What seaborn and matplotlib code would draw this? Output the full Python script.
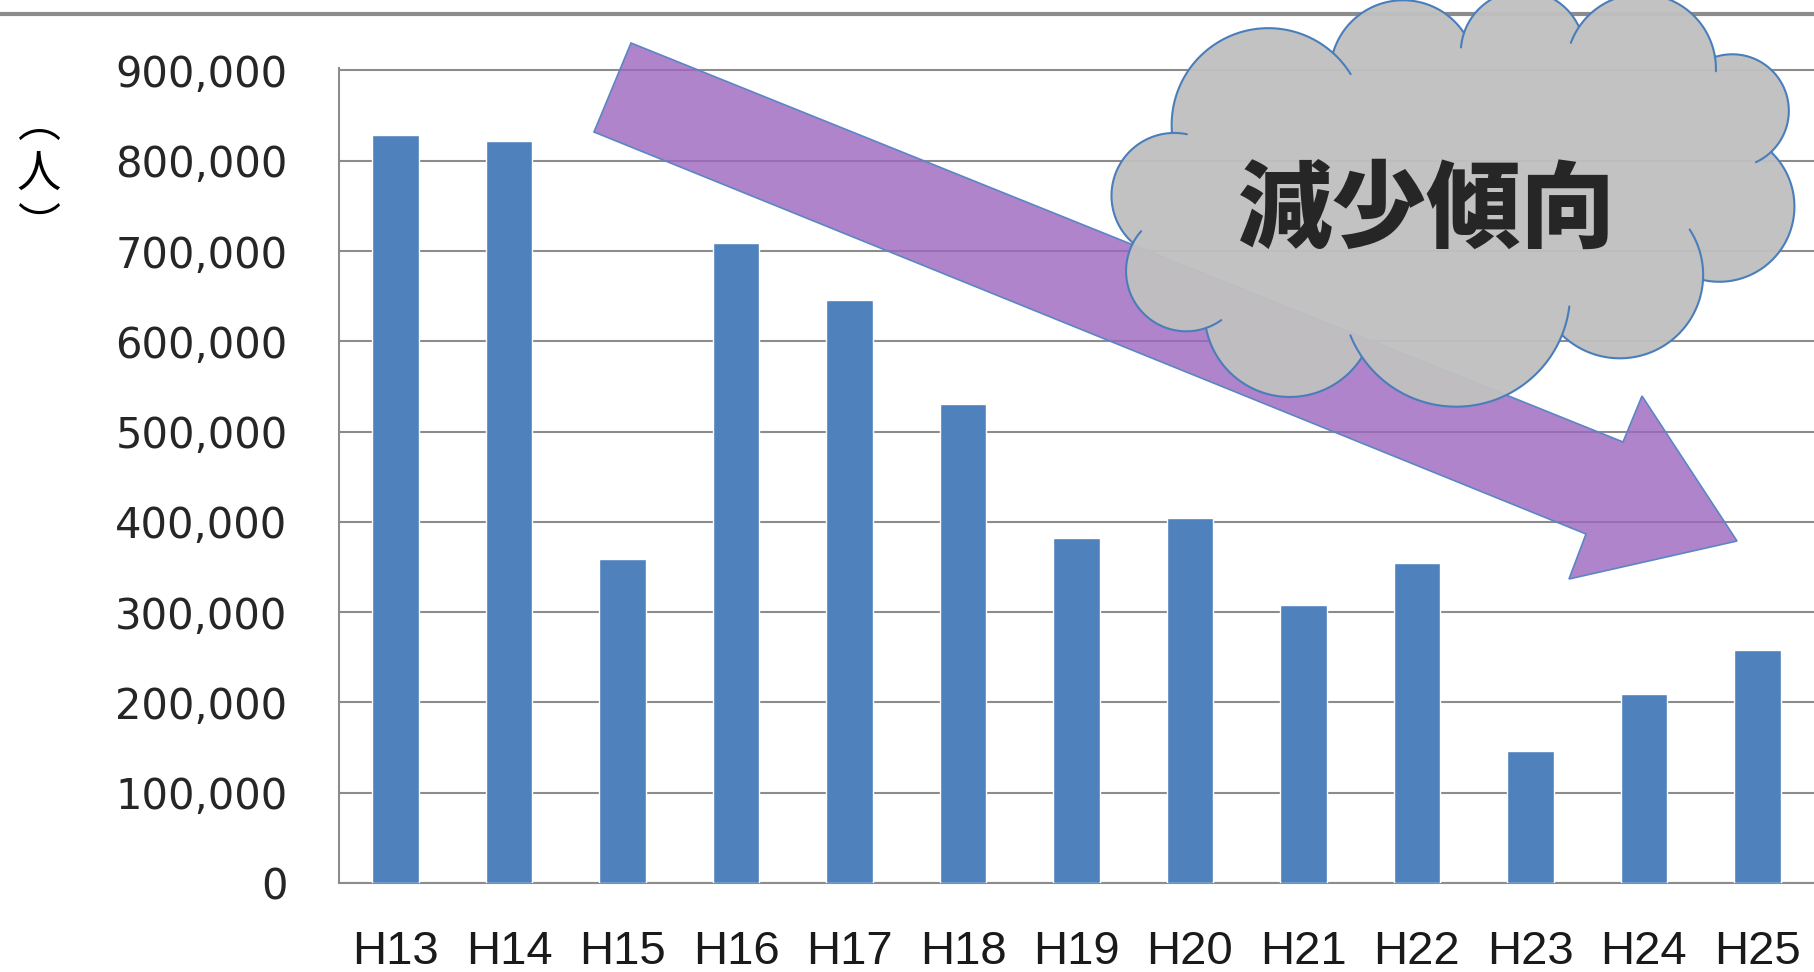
import numpy as np
import pandas as pd
import matplotlib
matplotlib.use("Agg")
import matplotlib.pyplot as plt
import seaborn as sns
from matplotlib.patches import Polygon
from matplotlib.ticker import FuncFormatter

# ---------------- data ----------------
years = ["H13", "H14", "H15", "H16", "H17", "H18", "H19",
         "H20", "H21", "H22", "H23", "H24", "H25"]
visitors = [829000, 822000, 359000, 709000, 646000, 531000, 382000,
            404000, 308000, 354000, 146000, 209000, 258000]
y_ticks = [0, 100000, 200000, 300000, 400000, 500000,
           600000, 700000, 800000, 900000]
unit_label = ["︵", "人", "︶"]
trend_label = "減少傾向"

# ---------------- style ----------------
sns.set_style("white")
plt.rcParams['font.family'] = ['DejaVu Sans', 'Noto Sans CJK JP']

W, H = 1814, 972
fig = plt.figure(figsize=(W / 100, H / 100), dpi=100)

y0_px, y900_px = 883.0, 70.5
ymax = 903000
ax_h = (y0_px - y900_px) * ymax / 900000
L = 339 / W
ax = fig.add_axes([L, 1 - y0_px / H, 1.0 - L, ax_h / H])

df = pd.DataFrame({"year": years, "visitors": visitors})
sns.barplot(data=df, x="year", y="visitors", color="#4F81BD",
            saturation=1, width=0.41, ax=ax, zorder=3)

GRID = "#8C8C8C"
ax.set_xlim(-0.5, 12.5)
ax.set_ylim(0, ymax)
ax.set_yticks(y_ticks)
ax.yaxis.set_major_formatter(FuncFormatter(lambda v, p: f"{int(v):,}"))
ax.grid(axis='y', color=GRID, lw=1.5)
ax.grid(axis='x', visible=False)
ax.set_axisbelow(True)
ax.set_xlabel("")
ax.set_ylabel("")
for s in ['top', 'right']:
    ax.spines[s].set_visible(False)
for s in ['left', 'bottom']:
    ax.spines[s].set_color(GRID)
    ax.spines[s].set_linewidth(1.5)

ax.tick_params(axis='y', direction='out', length=12, width=1.5, color=GRID,
               pad=25, labelsize=30, labelcolor='#262626')
ax.tick_params(axis='x', which='major', length=0, pad=34, labelsize=34,
               labelcolor='#1a1a1a')
ax.set_xticks(np.arange(-0.5, 12.6, 1), minor=True)
ax.tick_params(axis='x', which='minor', direction='out', length=13,
               width=1.5, color=GRID)
for lbl in ax.get_xticklabels():
    lbl.set_fontfamily(['Liberation Sans', 'DejaVu Sans'])

# ---------------- overlay (annotations in pixel space) ----------------
ov = fig.add_axes([0, 0, 1, 1], zorder=5)
ov.set_xlim(0, W)
ov.set_ylim(H, 0)
ov.axis('off')
ov.patch.set_alpha(0)

# top frame line
ov.plot([0, W], [14, 14], color=GRID, lw=3, solid_capstyle='butt')

# unit label (vertical)
ov.text(39, 125, unit_label[0], fontsize=31, ha='center', va='center',
        family=['Noto Sans CJK JP'], color='black')
ov.text(39, 175, unit_label[1], fontsize=32, ha='center', va='center',
        family=['Noto Sans CJK JP'], color='black')
ov.text(39, 227, unit_label[2], fontsize=31, ha='center', va='center',
        family=['Noto Sans CJK JP'], color='black')

# block arrow
arrow_pts = [(631, 43), (1623, 442), (1642, 396), (1737, 541),
             (1569, 579), (1586, 534), (594, 132)]
ov.add_patch(Polygon(arrow_pts, closed=True, facecolor=(156/255, 102/255, 191/255),
                     alpha=0.8, edgecolor='none', zorder=2))
ov.add_patch(Polygon(arrow_pts, closed=True, facecolor='none',
                     edgecolor='#5B86C5', lw=1.2, zorder=2.1))

# cloud
cloud_pts = [(1172, 133), (1333, 53), (1464, 33), (1579, 27), (1715, 57),
             (1771, 152), (1703, 280), (1562, 335), (1362, 357), (1206, 328),
             (1133, 243)]
ratios = [0.34, 0.32, 0.34, 0.34, 0.40, 0.38, 0.32, 0.30, 0.34, 0.34, 0.34]
ext = {0: (0, 0.12), 2: (0.10, 0), 3: (0.10, 0.08), 4: (0, 0.12),
       6: (0.28, 0), 7: (0.12, 0.10), 9: (0.12, 0.10), 10: (0, 0.10)}
cx = np.mean([p[0] for p in cloud_pts])
cy = np.mean([p[1] for p in cloud_pts])


def lobe(p0, p1, k, t0=0.0, t1=1.0, n=60):
    p0 = np.array(p0, float)
    p1 = np.array(p1, float)
    c = np.linalg.norm(p1 - p0)
    d = (p1 - p0) / c
    nrm = np.array([-d[1], d[0]])
    m = (p0 + p1) / 2
    if np.dot(nrm, m - np.array([cx, cy])) < 0:
        nrm = -nrm
    s = k * c
    theta = 4 * np.arctan(2 * k)
    r = c / (2 * np.sin(theta / 2))
    center = m + nrm * (s - r)
    v0 = p0 - center
    a0 = np.arctan2(v0[1], v0[0])
    apex = m + nrm * s
    best = None
    for sign in (1, -1):
        am = a0 + sign * theta / 2
        q = center + r * np.array([np.cos(am), np.sin(am)])
        dist = np.linalg.norm(q - apex)
        if best is None or dist < best[0]:
            best = (dist, sign)
    sign = best[1]
    ts = np.linspace(t0, t1, n)
    ang = a0 + sign * theta * ts
    return np.column_stack([center[0] + r * np.cos(ang),
                            center[1] + r * np.sin(ang)])


outline = []
N = len(cloud_pts)
for i in range(N):
    outline.append(lobe(cloud_pts[i], cloud_pts[(i + 1) % N], ratios[i]))
outline = np.vstack(outline)
EDGE = '#4A7EBB'
ov.add_patch(Polygon(outline, closed=True, facecolor='#C0C0C0', alpha=0.96,
                     edgecolor='none', zorder=3))
ov.add_patch(Polygon(outline, closed=True, facecolor='none', edgecolor=EDGE,
                     lw=1.5, zorder=3.2))
for i, (es, ee) in ext.items():
    p0, p1 = cloud_pts[i], cloud_pts[(i + 1) % N]
    if es > 0:
        seg = lobe(p0, p1, ratios[i], -es, 0, 20)
        ov.plot(seg[:, 0], seg[:, 1], color=EDGE, lw=1.5, zorder=3.3)
    if ee > 0:
        seg = lobe(p0, p1, ratios[i], 1, 1 + ee, 20)
        ov.plot(seg[:, 0], seg[:, 1], color=EDGE, lw=1.5, zorder=3.3)

ov.text(1427, 212, trend_label, fontsize=68, fontweight='black', ha='center',
        va='center', color='#262626', family=['Noto Sans CJK JP'], zorder=4)

fig.savefig("out.png", dpi=100)
